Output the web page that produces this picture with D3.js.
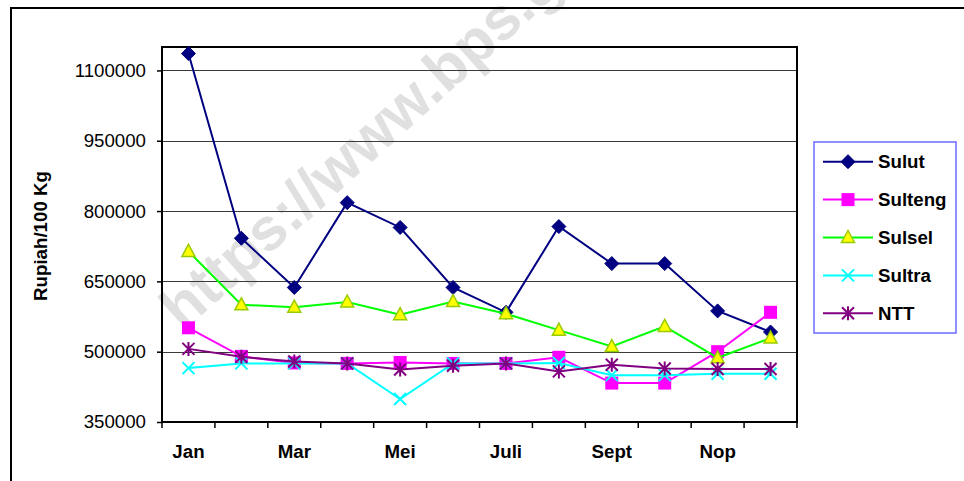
<!DOCTYPE html>
<html>
<head>
<meta charset="utf-8">
<script src="https://cdn.jsdelivr.net/npm/d3@7"></script>
<style>
  html, body { margin: 0; padding: 0; background: #fff; }
  svg { display: block; }
  text { font-family: "Liberation Sans", Arial, sans-serif; }
</style>
</head>
<body>
<svg id="chart" width="964" height="481"></svg>
<script>
// ---- data ----
const months = ["Jan", "Feb", "Mar", "Apr", "Mei", "Jun", "Juli", "Agust", "Sept", "Okt", "Nop", "Des"];
const shownMonthLabels = ["Jan", "Mar", "Mei", "Juli", "Sept", "Nop"];
const seriesNames = ["Sulut", "Sulteng", "Sulsel", "Sultra", "NTT"];
const sulut   = [1136000, 742000, 637000, 818000, 765000, 637000, 584000, 767000, 688000, 688000, 587000, 542000];
const sulteng = [551000, 490000, 476000, 475000, 477000, 475000, 475000, 488000, 433000, 433000, 500000, 584000];
const sulsel  = [714000, 600000, 595000, 606000, 579000, 607000, 581000, 546000, 511000, 554000, 487000, 529000];
const sultra  = [465000, 475000, 475000, 475000, 399000, 475000, 475000, 476000, 450000, 450000, 453000, 453000];
const ntt     = [506000, 489000, 479000, 475000, 462000, 470000, 475000, 458000, 472000, 464000, 463000, 463000];
const yTicks = [350000, 500000, 650000, 800000, 950000, 1100000];
const yDomain = [350000, 1150000];
const yTitle = "Rupiah/100 Kg";
const watermark = "https://www.bps.go.id";

const seriesValues = [sulut, sulteng, sulsel, sultra, ntt];
const styles = [
  { line: "#000080", marker: "diamond", fill: "#000080", stroke: "#000080" },
  { line: "#FF00FF", marker: "square", fill: "#FF00FF", stroke: "#FF00FF" },
  { line: "#00FF00", marker: "triangle", fill: "#FFFF00", stroke: "#99CC00" },
  { line: "#00FFFF", marker: "x", fill: "none", stroke: "#00FFFF" },
  { line: "#800080", marker: "star", fill: "none", stroke: "#800080" }
];

const svg = d3.select("#chart");
const plot = { left: 162, right: 797, top: 47, bottom: 422 };

// watermark (behind everything)
svg.append("text")
  .attr("transform", "translate(183,332) rotate(-42)")
  .attr("font-size", 60).attr("font-weight", "bold")
  .attr("fill", "#e0e0e0")
  .text(watermark);

// outer frame
svg.append("rect").attr("x", 11).attr("y", 8).attr("width", 1000).attr("height", 500)
  .attr("fill", "none").attr("stroke", "#000").attr("stroke-width", 2);

const x = d3.scaleBand().domain(months).range([plot.left, plot.right]).padding(0);
const y = d3.scaleLinear().domain(yDomain).range([plot.bottom, plot.top]);

// gridlines
svg.append("g").selectAll("line").data(yTicks.slice(1)).join("line")
  .attr("x1", plot.left).attr("x2", plot.right)
  .attr("y1", d => Math.round(y(d)) + 0.5).attr("y2", d => Math.round(y(d)) + 0.5)
  .attr("stroke", "#3a3a3a").attr("stroke-width", 1);

// y axis
const yAxis = d3.axisLeft(y).tickValues(yTicks).tickSize(5).tickPadding(11).tickFormat(d3.format("d"));
const gy = svg.append("g").attr("transform", `translate(${plot.left},0)`).call(yAxis);
gy.select(".domain").remove();
gy.selectAll(".tick line").attr("stroke", "#000").attr("stroke-width", 1.5);
gy.selectAll(".tick text").attr("font-size", 18.7).attr("fill", "#000")
  .attr("font-family", "Liberation Sans, Arial, sans-serif");

// x axis labels
const xAxis = d3.axisBottom(x).tickSize(0).tickPadding(23)
  .tickFormat(d => shownMonthLabels.includes(d) ? d : "");
const gx = svg.append("g").attr("transform", `translate(0,${plot.bottom})`).call(xAxis);
gx.select(".domain").remove();
gx.selectAll(".tick text").attr("font-size", 18.7).attr("font-weight", "bold").attr("fill", "#000")
  .attr("font-family", "Liberation Sans, Arial, sans-serif");

// x tick marks at category boundaries
const bounds = months.map(m => x(m)).concat([x(months[months.length - 1]) + x.bandwidth()]);
svg.append("g").selectAll("line").data(bounds).join("line")
  .attr("x1", d => d).attr("x2", d => d)
  .attr("y1", plot.bottom).attr("y2", plot.bottom + 6)
  .attr("stroke", "#000").attr("stroke-width", 1.5);

// plot border
svg.append("rect").attr("x", plot.left).attr("y", plot.top)
  .attr("width", plot.right - plot.left).attr("height", plot.bottom - plot.top)
  .attr("fill", "none").attr("stroke", "#000").attr("stroke-width", 2);

// y title
svg.append("text")
  .attr("transform", "translate(47,236) rotate(-90)")
  .attr("text-anchor", "middle")
  .attr("font-size", 18.7).attr("font-weight", "bold")
  .text(yTitle);

// marker drawing
function drawMarker(g, type, st) {
  if (type === "diamond") {
    g.append("path").attr("d", "M0,-7L7,0L0,7L-7,0Z").attr("fill", st.fill).attr("stroke", st.stroke).attr("stroke-width", 1);
  } else if (type === "square") {
    g.append("rect").attr("x", -6.5).attr("y", -6.5).attr("width", 13).attr("height", 13).attr("fill", st.fill);
  } else if (type === "triangle") {
    g.append("path").attr("d", "M0,-7L6.5,5L-6.5,5Z").attr("fill", st.fill).attr("stroke", st.stroke).attr("stroke-width", 1.5);
  } else if (type === "x") {
    g.append("path").attr("d", "M-6,-6L6,6M-6,6L6,-6").attr("stroke", st.stroke).attr("stroke-width", 2).attr("fill", "none");
  } else if (type === "star") {
    g.append("path").attr("d", "M-6,-6L6,6M-6,6L6,-6M0,-7L0,7").attr("stroke", st.stroke).attr("stroke-width", 2).attr("fill", "none");
  }
}

const cx = m => x(m) + x.bandwidth() / 2;
const line = d3.line().x((d, i) => cx(months[i])).y(d => y(d));

seriesValues.forEach((vals, si) => {
  const st = styles[si];
  const g = svg.append("g");
  g.append("path").datum(vals).attr("d", line)
    .attr("fill", "none").attr("stroke", st.line).attr("stroke-width", 2);
  vals.forEach((v, i) => {
    const mg = g.append("g").attr("transform", `translate(${cx(months[i])},${y(v)})`);
    drawMarker(mg, st.marker, st);
  });
});

// legend
const legend = svg.append("g");
legend.append("rect").attr("x", 814).attr("y", 142).attr("width", 142).attr("height", 191)
  .attr("fill", "#fff").attr("stroke", "#6b6bff").attr("stroke-width", 1.5);
const legendY = d3.scalePoint().domain(seriesNames).range([161.7, 313.3]);
seriesNames.forEach((name, si) => {
  const st = styles[si];
  const ly = legendY(name);
  legend.append("line").attr("x1", 823).attr("x2", 873).attr("y1", ly).attr("y2", ly)
    .attr("stroke", st.line).attr("stroke-width", 2);
  drawMarker(legend.append("g").attr("transform", `translate(848,${ly})`), st.marker, st);
  legend.append("text").attr("x", 878).attr("y", ly).attr("dy", "0.36em")
    .attr("font-size", 18.7).attr("font-weight", "bold").text(name);
});
</script>
</body>
</html>
